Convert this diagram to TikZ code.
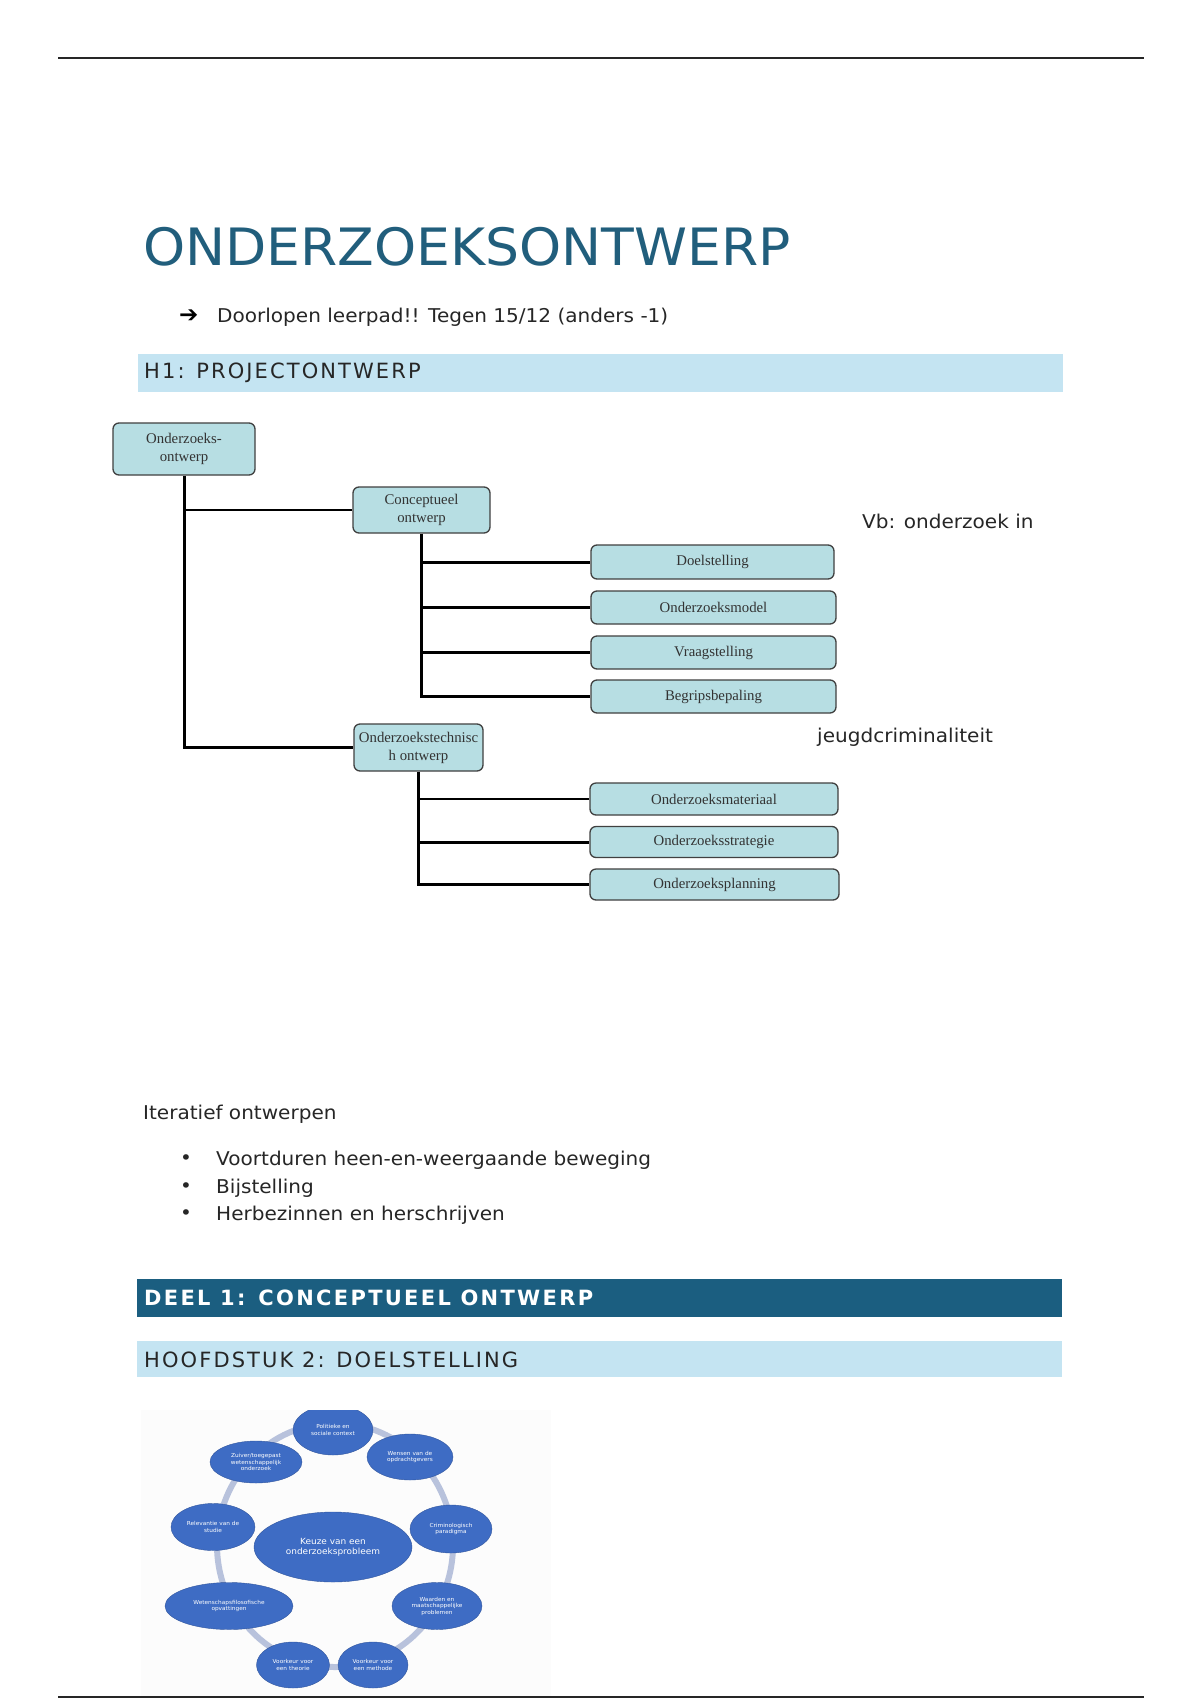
\documentclass[tikz,border=0pt]{standalone}
\usepackage{fontspec}
\setmainfont{DejaVu Sans}[FakeStretch=1.055]
\newfontfamily\titlefont{DejaVu Sans}[FakeStretch=1.04]
\newfontfamily\arrowfont{DejaVu Sans Bold}
\newfontfamily\boxfont{Liberation Serif}
\newfontfamily\spacedfont{DejaVu Sans}[LetterSpace=10]
\newfontfamily\spacedbold{DejaVu Sans Bold}[LetterSpace=11]
\usetikzlibrary{shapes.geometric}
\definecolor{titleblue}{RGB}{33,94,124}
\definecolor{bandlight}{RGB}{196,228,242}
\definecolor{banddark}{RGB}{27,94,128}
\definecolor{boxteal}{RGB}{183,222,227}
\definecolor{ellblue}{RGB}{62,108,196}
\definecolor{ringgrey}{RGB}{184,194,220}
\begin{document}
\begin{tikzpicture}[x=1pt,y=-1pt,
  rule/.style={line width=2pt, draw=black!85},
  body/.style={anchor=west, inner sep=0pt, font=\fontsize{19}{22}\selectfont, text=black!85},
  band/.style={inner sep=0pt},
  bandtext/.style={anchor=west, inner sep=0pt, font=\spacedfont\fontsize{21}{24}\selectfont, text=black!85},
  tbox/.style={draw=black!75, line width=1.3pt, fill=boxteal, rounded corners=6pt,
    font=\boxfont\fontsize{14.8}{18}\selectfont, text=black!80, align=center, inner sep=0pt},
  thick line/.style={line width=3pt, draw=black},
  thin line/.style={line width=2pt, draw=black},
  bell/.style={ellipse, fill=ellblue, draw=ellblue!80!black, line width=0.4pt, inner sep=0pt, text=white,
    align=center, font=\fontsize{5.5}{6.5}\selectfont},
]
\useasboundingbox[fill=white] (0,0) rectangle (1200,1700);

% page rules
\coordinate (tl) at (58,58);
\coordinate (tr) at (1144,58);
\draw[rule] (tl) -- (tr);

% title
\node[anchor=base west, inner sep=0pt, text=titleblue, font=\titlefont\fontsize{51.5}{56}\selectfont] (title) at (143,265) {ONDERZOEKSONTWERP};
\node[anchor=west, inner sep=0pt, font=\arrowfont\fontsize{23}{26}\selectfont] (arr) at (179,316) {➔};
\node[body] (note) at (217,317) {Doorlopen leerpad!! Tegen 15/12 (anders -1)};

% H1 band
\node[band, fill=bandlight, anchor=north west, minimum width=925, minimum height=38] (h1band) at (138,354) {};
\node[bandtext] (h1) at (144,373) {H1: PROJECTONTWERP};

% tree
\node[tbox, minimum width=142, minimum height=52] (oo) at (184,449) {Onderzoeks-\\ontwerp};
\node[tbox, minimum width=137, minimum height=46] (co) at (421.5,510) {Conceptueel\\ontwerp};
\node[tbox, minimum width=129, minimum height=47] (ot) at (418.5,747.5) {Onderzoekstechnisc\\h ontwerp};
\node[tbox, minimum width=243, minimum height=34] (d1) at (712.5,562) {Doelstelling};
\node[tbox, minimum width=245, minimum height=33] (d2) at (713.5,607.5) {Onderzoeksmodel};
\node[tbox, minimum width=245, minimum height=33] (d3) at (713.5,652.5) {Vraagstelling};
\node[tbox, minimum width=245, minimum height=33] (d4) at (713.5,696.5) {Begripsbepaling};
\node[tbox, minimum width=248, minimum height=32] (t1) at (714,799) {Onderzoeksmateriaal};
\node[tbox, minimum width=248, minimum height=31] (t2) at (714,842) {Onderzoeksstrategie};
\node[tbox, minimum width=249, minimum height=31] (t3) at (714.5,884.5) {Onderzoeksplanning};

\draw[thick line] (oo.south) -- (oo.south |- ot.west) -- (ot.west);
\draw[thin line] (oo.south |- co.west) -- (co.west);
\draw[thick line] (co.south) |- (d4.west);
\draw[thick line] (co.south |- d1.west) -- (d1.west);
\draw[thick line] (co.south |- d2.west) -- (d2.west);
\draw[thick line] (co.south |- d3.west) -- (d3.west);
\draw[thick line] (ot.south) |- (t3.west);
\draw[thin line] (ot.south |- t1.west) -- (t1.west);
\draw[thick line] (ot.south |- t2.west) -- (t2.west);

\node[body] (vb) at (862,521) {Vb: onderzoek in};
\node[body] (jc) at (817,737) {jeugdcriminaliteit};

% iteratief
\node[body] (it) at (143,1114) {Iteratief ontwerpen};
\node[body] (b1) at (180,1160) {•};
\node[body] (l1) at (216,1160) {Voortduren heen-en-weergaande beweging};
\node[body] (b2) at (180,1188) {•};
\node[body] (l2) at (216,1188) {Bijstelling};
\node[body] (b3) at (180,1215) {•};
\node[body] (l3) at (216,1215) {Herbezinnen en herschrijven};

% DEEL band
\node[band, fill=banddark, anchor=north west, minimum width=925, minimum height=38] (deelband) at (137,1279) {};
\node[anchor=west, inner sep=0pt, font=\spacedbold\fontsize{21}{24}\selectfont, text=white] (deel) at (144,1298) {DEEL 1: CONCEPTUEEL ONTWERP};

% HOOFDSTUK band
\node[band, fill=bandlight, anchor=north west, minimum width=925, minimum height=36] (hband) at (137,1341) {};
\node[bandtext] (hfd) at (144,1360) {HOOFDSTUK 2: DOELSTELLING};

% circular diagram
\begin{scope}
\clip (141,1410) rectangle (551,1697);
\fill[black!1] (141,1410) rectangle (551,1697);
\draw[ringgrey, line width=6pt] (335,1545) ellipse [x radius=118, y radius=122];
\node[bell, minimum width=158, minimum height=70, font=\fontsize{8.5}{10}\selectfont] (c0) at (333,1547) {Keuze van een\\onderzoeksprobleem};
\node[bell, minimum width=80, minimum height=50] (e1) at (333,1430) {Politieke en\\sociale context};
\node[bell, minimum width=86, minimum height=46] (e2) at (410,1457) {Wensen van de\\opdrachtgevers};
\node[bell, minimum width=82, minimum height=48] (e3) at (451,1529) {Criminologisch\\paradigma};
\node[bell, minimum width=90, minimum height=47] (e4) at (437,1606) {Waarden en\\maatschappelijke\\problemen};
\node[bell, minimum width=70, minimum height=46] (e5) at (373,1665) {Voorkeur voor\\een methode};
\node[bell, minimum width=73, minimum height=46] (e6) at (293,1665) {Voorkeur voor\\een theorie};
\node[bell, minimum width=128, minimum height=47] (e7) at (229,1606) {Wetenschapsfilosofische\\opvattingen};
\node[bell, minimum width=84, minimum height=47] (e8) at (213,1527) {Relevantie van de\\studie};
\node[bell, minimum width=92, minimum height=42] (e9) at (256,1462) {Zuiver/toegepast\\wetenschappelijk\\onderzoek};
\end{scope}

\coordinate (bl) at (58,1697);
\coordinate (br) at (1144,1697);
\draw[rule] (bl) -- (br);
\end{tikzpicture}
\end{document}
